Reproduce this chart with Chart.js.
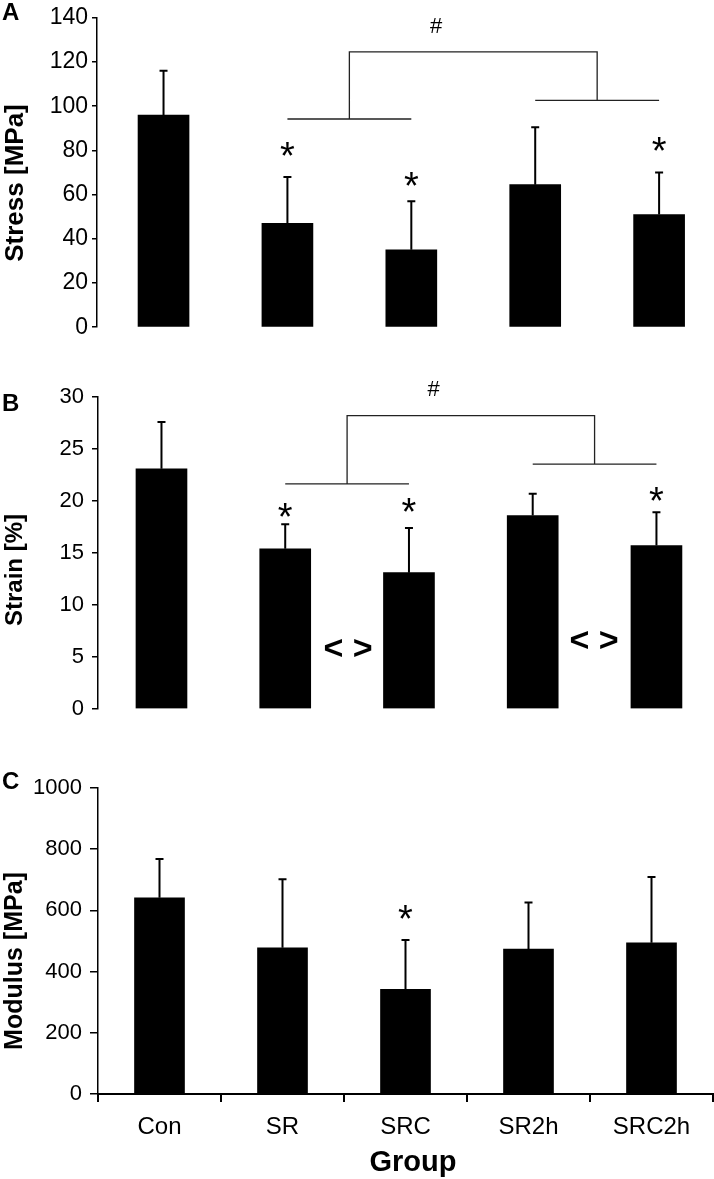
<!DOCTYPE html>
<html>
<head>
<meta charset="utf-8">
<script src="https://cdn.jsdelivr.net/npm/chart.js@4.4.1/dist/chart.umd.min.js"></script>
<style>
  html, body { margin: 0; padding: 0; background: #fff; width: 714px; height: 1179px; overflow: hidden; }
  .panel { position: absolute; left: 0; width: 714px; }
</style>
</head>
<body>
<div class="panel" style="top:0;height:345px"><canvas id="chartA"></canvas></div>
<div class="panel" style="top:360px;height:370px"><canvas id="chartB"></canvas></div>
<div class="panel" style="top:740px;height:439px"><canvas id="chartC"></canvas></div>
<script>
// groups and values (mean + SD)
var groups = ['Con', 'SR', 'SRC', 'SR2h', 'SRC2h'];

var stressMean = [96, 47, 35, 64.5, 51];
var stressSD = [20, 21, 22, 26, 19];
var stressTicks = [0, 20, 40, 60, 80, 100, 120, 140];
var stressStars = [null, 80, 66.5, null, 82];
var stressBracket = [94.2, 102.6, 124.6, 136];   // lower SR-SRC, lower SR2h-SRC2h, top, '#'

var strainMean = [23.1, 15.4, 13.1, 18.6, 15.7];
var strainSD = [4.5, 2.35, 4.3, 2.1, 3.2];
var strainTicks = [0, 5, 10, 15, 20, 25, 30];
var strainStars = [null, 19.0, 19.5, null, 20.5];
var strainBracket = [21.65, 23.55, 28.2, 30.7];
var strainArrows = [5.7, 6.46];                  // '< >' between SR/SRC and SR2h/SRC2h

var modulusMean = [641, 478, 342, 474, 494];
var modulusSD = [127, 224, 161, 152, 215];
var modulusTicks = [0, 200, 400, 600, 800, 1000];
var modulusStars = [null, null, 591, null, null];

Chart.defaults.font.family = '"Liberation Sans", Arial, sans-serif';
Chart.defaults.color = '#000';

// error bars, stars, brackets and axis titles
var annotPlugin = {
  id: 'annot',
  afterDraw: function(chart, args, o) {
    var ctx = chart.ctx;
    var xs = chart.scales.x, ys = chart.scales.y;
    var meta = chart.getDatasetMeta(0);
    ctx.save();
    ctx.strokeStyle = '#000';
    ctx.fillStyle = '#000';

    ctx.lineWidth = 2;
    meta.data.forEach(function(bar, i) {
      var top = ys.getPixelForValue(o.mean[i] + o.sd[i]);
      ctx.beginPath();
      ctx.moveTo(bar.x, bar.y);
      ctx.lineTo(bar.x, top);
      ctx.moveTo(bar.x - 4, top);
      ctx.lineTo(bar.x + 4, top);
      ctx.stroke();
    });

    ctx.textAlign = 'center';
    ctx.textBaseline = 'middle';
    ctx.font = '38px "Liberation Sans", Arial, sans-serif';
    o.stars.forEach(function(v, i) {
      if (v === null) return;
      ctx.fillText('*', meta.data[i].x, ys.getPixelForValue(v) + 8);
    });

    if (o.bracket) {
      var b = o.bracket;
      var X = function(v) { return xs.getPixelForValue(v); };
      var Y = function(v) { return ys.getPixelForValue(v); };
      ctx.strokeStyle = '#222';
      ctx.lineWidth = 1.3;
      ctx.beginPath();
      ctx.moveTo(X(1), Y(b[0])); ctx.lineTo(X(2), Y(b[0]));
      ctx.moveTo(X(1.5), Y(b[0])); ctx.lineTo(X(1.5), Y(b[2]));
      ctx.lineTo(X(3.5), Y(b[2])); ctx.lineTo(X(3.5), Y(b[1]));
      ctx.moveTo(X(3), Y(b[1])); ctx.lineTo(X(4), Y(b[1]));
      ctx.stroke();
      ctx.font = '22px "Liberation Sans", Arial, sans-serif';
      ctx.fillText('#', X(2.2), Y(b[3]));
    }

    if (o.arrows) {
      ctx.font = 'bold 34px "Liberation Sans", Arial, sans-serif';
      ctx.fillText('< >', xs.getPixelForValue(1.507), ys.getPixelForValue(o.arrows[0]));
      ctx.fillText('< >', xs.getPixelForValue(3.495), ys.getPixelForValue(o.arrows[1]));
    }

    // panel letter
    ctx.textAlign = 'left';
    ctx.textBaseline = 'alphabetic';
    ctx.font = 'bold 24px "Liberation Sans", Arial, sans-serif';
    ctx.fillText(o.letter, 2, o.letterY);

    // y axis title
    ctx.save();
    ctx.translate(o.titleX, o.titleY);
    ctx.rotate(-Math.PI / 2);
    ctx.textAlign = 'center';
    ctx.textBaseline = 'middle';
    ctx.font = 'bold ' + o.titleSize + 'px "Liberation Sans", Arial, sans-serif';
    ctx.fillText(o.title, 0, 0);
    ctx.restore();

    if (o.xTitle) {
      ctx.textAlign = 'center';
      ctx.font = 'bold 29px "Liberation Sans", Arial, sans-serif';
      ctx.fillText(o.xTitle, 413, 431);
    }
    ctx.restore();
  }
};

function yAxis(ticks, max, size, tickLen, pad, width) {
  return {
    min: 0, max: max,
    afterBuildTicks: function(s) { s.ticks = ticks.map(function(v) { return { value: v }; }); },
    afterFit: function(s) { s.width = width; },
    ticks: { font: { size: size }, color: '#000', padding: pad, callback: function(v) { return String(v); } },
    grid: { drawOnChartArea: false, tickLength: tickLen, color: '#000', lineWidth: 1.5 },
    border: { color: '#000', width: 1.5 }
  };
}

function points(arr) {
  return arr.map(function(v, i) { return { x: i, y: v }; });
}

var common = {
  responsive: true,
  maintainAspectRatio: false,
  animation: false,
  events: []
};

new Chart(document.getElementById('chartA'), {
  type: 'bar',
  data: { datasets: [{ data: points(stressMean), backgroundColor: '#000', barThickness: 51 }] },
  plugins: [annotPlugin],
  options: Object.assign({}, common, {
    layout: { padding: { top: 11, bottom: 16, left: 0, right: 1 } },
    scales: {
      x: { type: 'linear', min: -0.537, max: 4.435, offset: false, display: false },
      y: yAxis(stressTicks, 140, 23, 5, 4, 97)
    },
    plugins: {
      legend: { display: false }, tooltip: { enabled: false },
      annot: { mean: stressMean, sd: stressSD, stars: stressStars, bracket: stressBracket,
               letter: 'A', letterY: 20, title: 'Stress [MPa]', titleX: 16, titleY: 183, titleSize: 26 }
    }
  })
});

new Chart(document.getElementById('chartB'), {
  type: 'bar',
  data: { datasets: [{ data: points(strainMean), backgroundColor: '#000', barThickness: 51 }] },
  plugins: [annotPlugin],
  options: Object.assign({}, common, {
    layout: { padding: { top: 37, bottom: 17, left: 0, right: 1 } },
    scales: {
      x: { type: 'linear', min: -0.513, max: 4.457, offset: false, display: false },
      y: yAxis(strainTicks, 30, 22, 6, 8, 98)
    },
    plugins: {
      legend: { display: false }, tooltip: { enabled: false },
      annot: { mean: strainMean, sd: strainSD, stars: strainStars, bracket: strainBracket, arrows: strainArrows,
               letter: 'B', letterY: 51, title: 'Strain [%]', titleX: 15, titleY: 210, titleSize: 24 }
    }
  })
});

new Chart(document.getElementById('chartC'), {
  type: 'bar',
  data: { labels: groups, datasets: [{ data: modulusMean, backgroundColor: '#000', barThickness: 50 }] },
  plugins: [annotPlugin],
  options: Object.assign({}, common, {
    layout: { padding: { top: 48, bottom: 0, left: 0, right: 1 } },
    scales: {
      x: {
        type: 'category', offset: true,
        afterFit: function(s) { s.height = 85; },
        ticks: { font: { size: 24 }, color: '#000', padding: 11, maxRotation: 0 },
        grid: { offset: true, drawOnChartArea: false, tickLength: 8, color: '#000', lineWidth: 2 },
        border: { color: '#000', width: 2 }
      },
      y: yAxis(modulusTicks, 1000, 22, 8, 8, 98)
    },
    plugins: {
      legend: { display: false }, tooltip: { enabled: false },
      annot: { mean: modulusMean, sd: modulusSD, stars: modulusStars,
               letter: 'C', letterY: 49, title: 'Modulus [MPa]', titleX: 15, titleY: 221, titleSize: 25,
               xTitle: 'Group' }
    }
  })
});
</script>
</body>
</html>
